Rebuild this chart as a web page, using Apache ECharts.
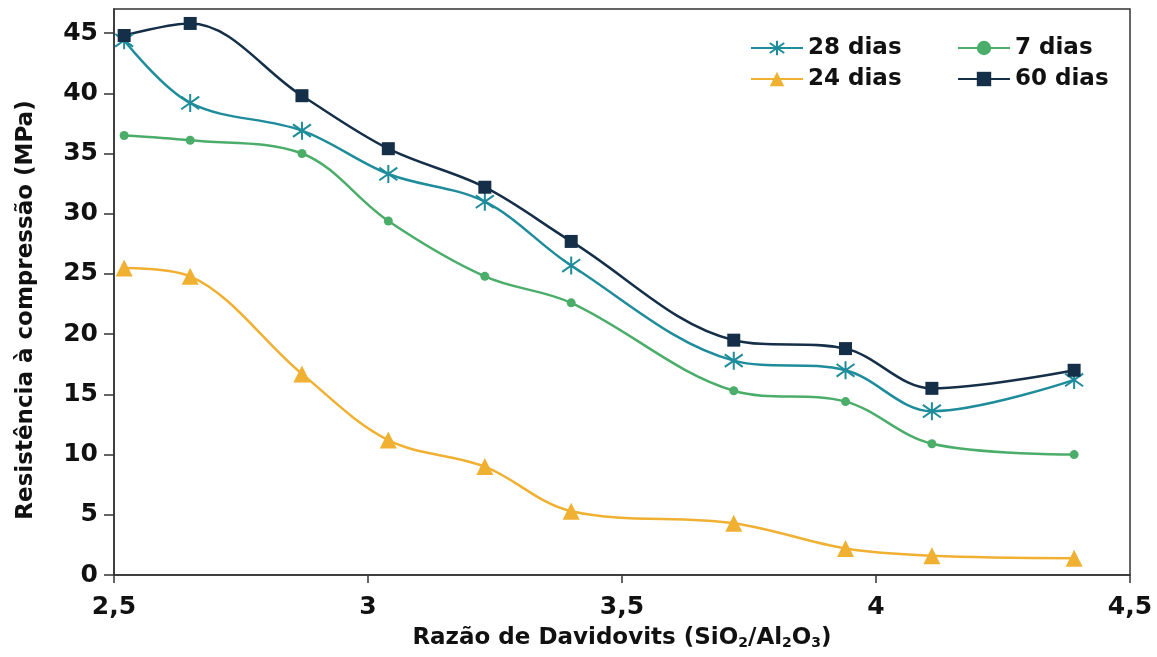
<!DOCTYPE html>
<html>
<head>
<meta charset="utf-8">
<script src="https://cdn.jsdelivr.net/npm/echarts@6/dist/echarts.min.js"></script>
<style>
html,body{margin:0;padding:0;background:#fff;}
#c{width:1157px;height:657px;}
</style>
</head>
<body>
<div id="c"></div>
<script>
const ratios = [2.52, 2.65, 2.87, 3.04, 3.23, 3.40, 3.72, 3.94, 4.11, 4.39];
const dias28 = [44.4, 39.2, 36.9, 33.3, 31.0, 25.7, 17.8, 17.0, 13.6, 16.2];
const dias7  = [36.5, 36.1, 35.0, 29.4, 24.8, 22.6, 15.3, 14.4, 10.9, 10.0];
const dias24 = [25.5, 24.8, 16.7, 11.2, 9.0, 5.3, 4.3, 2.2, 1.6, 1.4];
const dias60 = [44.8, 45.8, 39.8, 35.4, 32.2, 27.7, 19.5, 18.8, 15.5, 17.0];
const yTicks = [0, 5, 10, 15, 20, 25, 30, 35, 40, 45];
const xTicks = [2.5, 3, 3.5, 4, 4.5];

const pair = arr => ratios.map((x, i) => [x, arr[i]]);
const C28 = '#1e8c9b', C7 = '#4bad6a', C24 = '#f0b032', C60 = '#152f48';
const FONT = "'DejaVu Sans', 'Liberation Sans', sans-serif";
const starPath = 'path://M-7,-7L7,7M-7,7L7,-7M0,-10L0,10';

const chart = echarts.init(document.getElementById('c'), null, {renderer: 'canvas'});
const mkSeries = (name, data, color, symbol, size, extra) => Object.assign({
  name, type: 'line', data: pair(data), smooth: 0.35,
  symbol, symbolSize: size,
  lineStyle: {color, width: 2.5},
  itemStyle: {color},
  z: 3
}, extra || {});

const legendText = {fontSize: 23, lineHeight: 24, fontWeight: 'bold', color: '#111', fontFamily: FONT};

chart.setOption({
  animation: false,
  backgroundColor: '#fff',
  grid: {left: 114, right: 27, top: 9, bottom: 82, show: true, borderColor: '#333', borderWidth: 1.5},
  legend: [
    {data: ['28 dias', '24 dias'], orient: 'vertical', left: 745, top: 31, itemWidth: 52, itemHeight: 18, itemGap: 7,
     textStyle: legendText},
    {data: ['7 dias', '60 dias'], orient: 'vertical', left: 952, top: 31, itemWidth: 52, itemHeight: 18, itemGap: 7,
     textStyle: legendText}
  ],
  xAxis: {
    type: 'value', min: 2.5, max: 4.5, interval: 0.5,
    name: 'Razão de Davidovits (SiO{s|2}/Al{s|2}O{s|3})',
    nameLocation: 'middle', nameGap: 51,
    nameTextStyle: {fontSize: 23, fontWeight: 'bold', color: '#111', fontFamily: FONT,
      rich: {s: {fontSize: 14, fontWeight: 'bold', color: '#111', fontFamily: FONT, verticalAlign: 'bottom', padding: [10, 0, 0, 0]}}},
    axisLine: {lineStyle: {color: '#333', width: 1.5}},
    axisTick: {show: true, inside: false, length: 8, lineStyle: {color: '#333', width: 1.5}},
    axisLabel: {margin: 20, fontSize: 25, fontWeight: 'bold', color: '#111', fontFamily: FONT,
      customValues: xTicks, formatter: v => String(v).replace('.', ',')},
    splitLine: {show: false}
  },
  yAxis: {
    type: 'value', min: 0, max: 47,
    name: 'Resistência à compressão (MPa)',
    nameLocation: 'middle', nameGap: 76,
    nameTextStyle: {fontSize: 23, fontWeight: 'bold', color: '#111', fontFamily: FONT, padding: [0, 36, 0, 0]},
    axisLine: {show: true, lineStyle: {color: '#333', width: 1.5}},
    axisTick: {show: true, inside: false, length: 10, customValues: yTicks, lineStyle: {color: '#333', width: 1.5}},
    axisLabel: {margin: 16, fontSize: 25, fontWeight: 'bold', color: '#111', fontFamily: FONT,
      customValues: yTicks},
    splitLine: {show: false}
  },
  series: [
    mkSeries('24 dias', dias24, C24, 'triangle', 17),
    mkSeries('7 dias', dias7, C7, 'circle', 9),
    mkSeries('28 dias', dias28, C28, starPath, 18, {itemStyle: {color: 'none', borderColor: C28, borderWidth: 2}}),
    mkSeries('60 dias', dias60, C60, 'rect', 13)
  ]
});
</script>
</body>
</html>
